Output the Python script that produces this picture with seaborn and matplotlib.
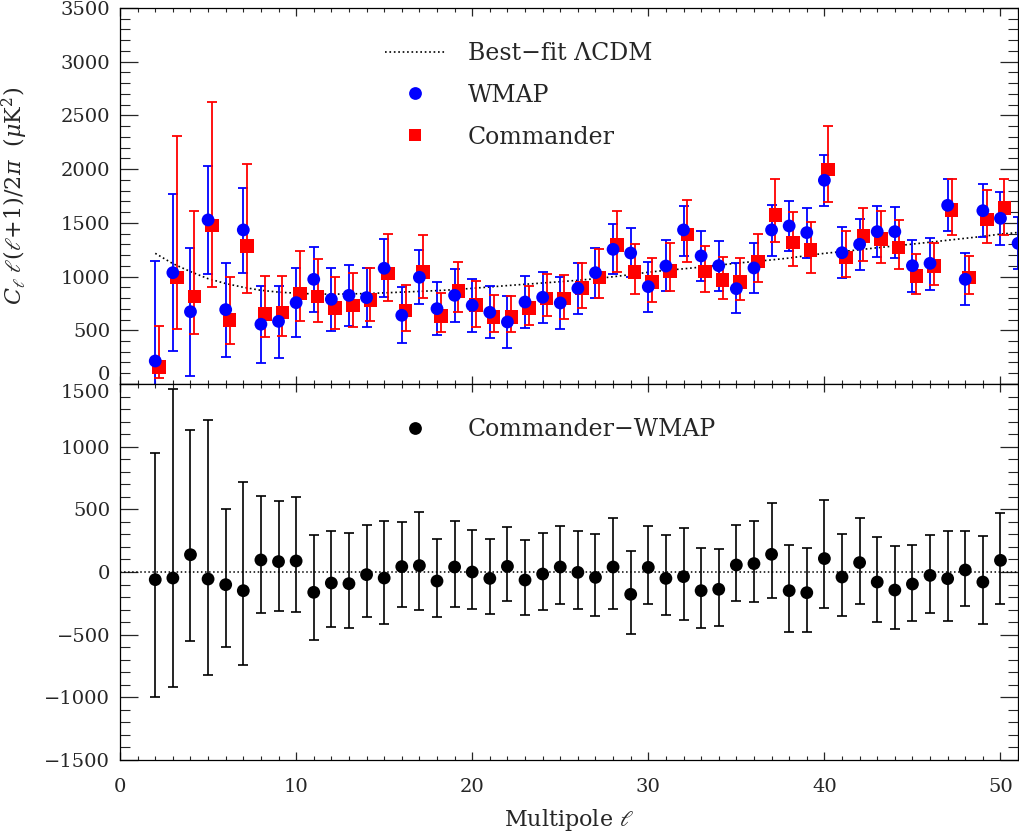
import numpy as np
import pandas as pd
import matplotlib
matplotlib.use("Agg")
import matplotlib.pyplot as plt
from matplotlib.lines import Line2D
from matplotlib.ticker import MultipleLocator
import seaborn as sns

# multipoles
ell_wmap = list(range(2, 52))
ell_comm = list(range(2, 51))

# WMAP spectrum and error bar ends (uK^2)
wmap = [214, 1036, 673, 1527, 692, 1434, 556, 583, 757, 974, 788, 825, 804, 1077, 639, 993, 701, 825,
        732, 667, 577, 763, 807, 754, 890, 1036, 1253, 1219, 906, 1098, 1434, 1192, 1101, 887, 1080,
        1434, 1471, 1409, 1896, 1222, 1300, 1418, 1418, 1101, 1123, 1663, 974, 1613, 1542, 1309]
wmap_hi = [1145, 1766, 1266, 2032, 1129, 1828, 915, 915, 1077, 1278, 1083, 1108, 1080, 1347, 903, 1247,
           952, 1067, 974, 912, 819, 1003, 1046, 993, 1129, 1269, 1486, 1455, 1139, 1341, 1660, 1424,
           1334, 1123, 1309, 1666, 1704, 1641, 2132, 1458, 1536, 1657, 1651, 1341, 1362, 1905, 1216,
           1858, 1783, 1557]
wmap_lo = [-700, 310, 77, 1021, 248, 1036, 192, 239, 434, 667, 496, 543, 527, 813, 379, 742, 453, 574,
           484, 428, 332, 524, 571, 512, 652, 797, 1024, 993, 670, 869, 1195, 959, 869, 658, 844, 1195,
           1241, 1170, 1660, 983, 1061, 1179, 1176, 856, 878, 1424, 732, 1368, 1294, 1067]

# Commander spectrum and error bar ends
comm = [158, 993, 816, 1477, 596, 1282, 652, 667, 844, 816, 705, 732, 782, 1030, 686, 1040, 633, 866,
        735, 621, 621, 705, 797, 797, 894, 993, 1294, 1040, 950, 1052, 1393, 1046, 968, 950, 1142,
        1573, 1319, 1247, 1998, 1179, 1378, 1350, 1272, 1005, 1098, 1620, 993, 1533, 1638]
comm_hi = [537, 2309, 1610, 2628, 999, 2048, 1005, 1005, 1241, 1161, 999, 1030, 1077, 1396, 924, 1387,
           844, 1139, 962, 829, 819, 912, 1021, 1015, 1129, 1253, 1610, 1300, 1176, 1309, 1710, 1288,
           1185, 1170, 1396, 1908, 1598, 1508, 2405, 1427, 1636, 1607, 1527, 1207, 1309, 1905, 1188,
           1809, 1911]
comm_lo = [53, 509, 462, 900, 369, 850, 440, 450, 589, 580, 509, 527, 589, 776, 496, 798, 487, 667, 527,
           481, 481, 549, 633, 602, 705, 797, 1046, 838, 766, 869, 1139, 860, 791, 782, 950, 1319, 1101,
           1036, 1691, 993, 1148, 1129, 1067, 838, 918, 1384, 838, 1309, 1387]

# best-fit LCDM, l = 2..51
lcdm = [1216, 1120, 1046, 980, 935, 900, 872, 855, 845, 838, 836, 838, 842, 848, 855, 862, 869, 878,
        890, 903, 916, 928, 940, 952, 965, 980, 998, 1018, 1040, 1058, 1072, 1088, 1106, 1124, 1140,
        1155, 1172, 1195, 1216, 1232, 1250, 1268, 1285, 1302, 1320, 1338, 1356, 1374, 1395, 1410]

# Commander - WMAP
diff = [-61, -48, 138, -56, -101, -149, 96, 83, 88, -162, -88, -93, -21, -48, 43, 51, -72, 40, 0, -51,
        45, -64, -16, 40, -3, -43, 40, -178, 37, -51, -37, -149, -138, 56, 67, 141, -149, -165, 107,
        -40, 75, -80, -144, -96, -27, -53, 16, -80, 93]
diff_hi = [953, 1459, 1134, 1209, 501, 714, 607, 570, 597, 298, 328, 314, 378, 407, 402, 479, 261, 410,
           336, 266, 357, 253, 314, 367, 330, 304, 434, 165, 370, 296, 354, 194, 186, 378, 410, 549, 213,
           192, 575, 301, 434, 282, 210, 218, 298, 330, 330, 290, 469]
diff_lo = [-1001, -921, -554, -820, -597, -740, -325, -314, -320, -546, -439, -445, -357, -413, -277,
           -304, -362, -277, -293, -333, -234, -346, -304, -253, -298, -349, -298, -493, -253, -346,
           -381, -445, -431, -229, -240, -208, -477, -477, -290, -349, -253, -399, -458, -389, -325,
           -389, -272, -413, -256]

sns.set_style("ticks")
plt.rcParams['font.family'] = ['DejaVu Serif']
plt.rcParams['mathtext.fontset'] = 'dejavuserif'
plt.rcParams['axes.linewidth'] = 0.9

df_w = pd.DataFrame({'ell': ell_wmap, 'val': wmap, 'lo': wmap_lo, 'hi': wmap_hi})
df_c = pd.DataFrame({'ell': np.array(ell_comm) + 0.22, 'val': comm, 'lo': comm_lo, 'hi': comm_hi})
df_d = pd.DataFrame({'ell': ell_comm, 'val': diff, 'lo': diff_lo, 'hi': diff_hi})
df_l = pd.DataFrame({'ell': ell_wmap, 'val': lcdm})

fig = plt.figure(figsize=(10.19, 8.32), dpi=100)
ax1 = fig.add_axes([0.1178, 0.5385, 0.8813, 0.4519])
ax2 = fig.add_axes([0.1178, 0.0865, 0.8813, 0.4520])

blue = '#0000ff'
red = '#ff0000'

# top panel
sns.lineplot(data=df_l, x='ell', y='val', ax=ax1, color='k', linestyle=':', linewidth=1.2, zorder=1)
ax1.errorbar(df_w['ell'], df_w['val'], yerr=[df_w['val'] - df_w['lo'], df_w['hi'] - df_w['val']],
             fmt='none', ecolor=blue, elinewidth=1.3, capsize=3.6, capthick=1.3, zorder=2)
ax1.errorbar(df_c['ell'], df_c['val'], yerr=[df_c['val'] - df_c['lo'], df_c['hi'] - df_c['val']],
             fmt='none', ecolor=red, elinewidth=1.3, capsize=3.6, capthick=1.3, zorder=3)
sns.scatterplot(data=df_c, x='ell', y='val', ax=ax1, marker='s', s=95, color=red,
                edgecolor='none', linewidth=0, zorder=4)
sns.scatterplot(data=df_w, x='ell', y='val', ax=ax1, marker='o', s=85, color=blue,
                edgecolor='none', linewidth=0, zorder=5)

# bottom panel
ax2.axhline(0, color='k', linestyle=':', linewidth=1.1, zorder=1)
ax2.errorbar(df_d['ell'], df_d['val'], yerr=[df_d['val'] - df_d['lo'], df_d['hi'] - df_d['val']],
             fmt='none', ecolor='k', elinewidth=1.2, capsize=3.6, capthick=1.2, zorder=2)
sns.scatterplot(data=df_d, x='ell', y='val', ax=ax2, marker='o', s=85, color='k',
                edgecolor='none', linewidth=0, zorder=3)

for ax in (ax1, ax2):
    ax.set_xlim(0, 51)
    ax.xaxis.set_major_locator(MultipleLocator(10))
    ax.xaxis.set_minor_locator(MultipleLocator(1))
    ax.yaxis.set_major_locator(MultipleLocator(500))
    ax.yaxis.set_minor_locator(MultipleLocator(100))
    ax.tick_params(axis='x', which='major', direction='in', length=6, width=0.9,
                   top=True, bottom=True, labelsize=14, pad=13)
    ax.tick_params(axis='x', which='minor', direction='in', length=3, width=0.8, top=True, bottom=True)
    ax.tick_params(axis='y', which='major', direction='in', length=13, width=0.9,
                   left=True, right=True, labelsize=14, pad=7)
    ax.tick_params(axis='y', which='minor', direction='in', length=7, width=0.8, left=True, right=True)
    for sp in ax.spines.values():
        sp.set_visible(True)
        sp.set_color('k')
    ax.set_xlabel('')
    ax.set_ylabel('')

ax1.set_ylim(0, 3500)
ax2.set_ylim(-1500, 1500)
ax1.tick_params(axis='x', labelbottom=False)

# keep the shared "0" / "1500" labels apart, as in the original
fig.canvas.draw()
for lab in ax1.get_yticklabels():
    if lab.get_text() == '0':
        lab.set_va('bottom')
for lab in ax2.get_yticklabels():
    if lab.get_text() == '1500':
        lab.set_va('top')

ax1.set_ylabel(r'$C_\ell\;\ell(\ell{+}1)/2\pi$  ($\mu$K$^2$)', fontsize=16)
ax1.yaxis.set_label_coords(-0.1, 0.5)
ax2.set_xlabel(r'Multipole $\ell$', fontsize=16, labelpad=8)

h_top = [Line2D([], [], color='k', linestyle=':', linewidth=1.2),
         Line2D([], [], color=blue, marker='o', linestyle='none', markersize=9.2, markeredgewidth=0),
         Line2D([], [], color=red, marker='s', linestyle='none', markersize=9, markeredgewidth=0)]
ax1.legend(h_top, ['Best\u2212fit \u039bCDM', 'WMAP', 'Commander'], loc='upper left',
           bbox_to_anchor=(0.295, 0.91), frameon=False, fontsize=17, handlelength=2.55,
           handletextpad=0.95, labelspacing=0.8, borderpad=0, borderaxespad=0)
h_bot = [Line2D([], [], color='k', marker='o', linestyle='none', markersize=9.2, markeredgewidth=0)]
ax2.legend(h_bot, ['Commander\u2212WMAP'], loc='upper left', bbox_to_anchor=(0.295, 0.91),
           frameon=False, fontsize=17, handlelength=2.55, handletextpad=0.95, borderpad=0, borderaxespad=0)

fig.savefig('out.png', dpi=100)
